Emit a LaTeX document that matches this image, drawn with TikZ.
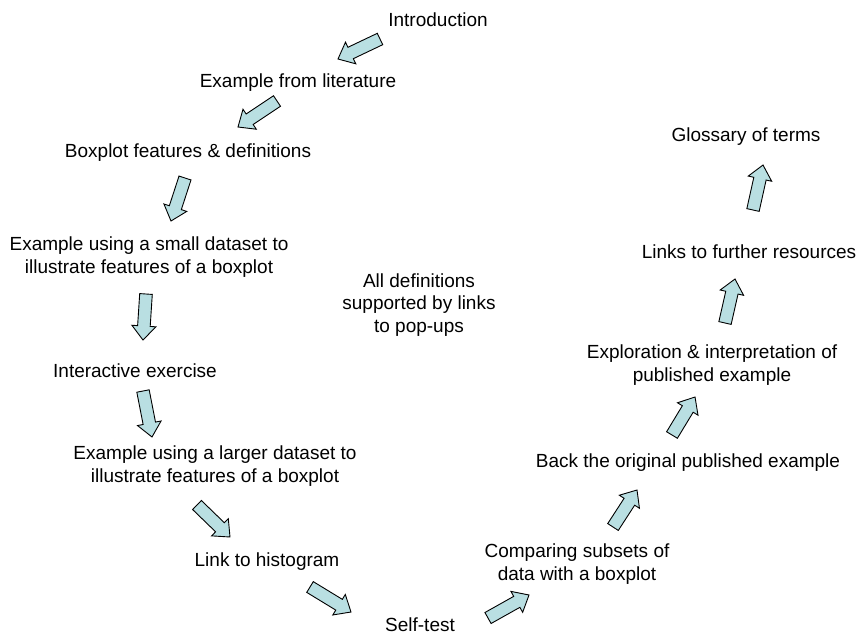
\documentclass[tikz,border=0pt]{standalone}
\usepackage{fontspec}
\setmainfont{Liberation Sans}
\usetikzlibrary{calc}
\definecolor{arrowfill}{RGB}{185,223,226}
\tikzset{
  lbl/.style={align=center, inner sep=0pt, font=\fontsize{19}{22.5}\selectfont},
  blockarr/.style={draw=black, fill=arrowfill, line width=0.9pt, line join=miter}
}
\newcommand\blockarrow[2]{%
  \coordinate (bah) at ($(#2)!14pt!(#1)$);
  \draw[blockarr] ($(#1)!6.3pt!90:(#2)$) -- ($(bah)!6.3pt!90:(#2)$) -- ($(bah)!12pt!90:(#2)$)
    -- (#2) -- ($(bah)!12pt!-90:(#2)$) -- ($(bah)!6.3pt!-90:(#2)$) -- ($(#1)!6.3pt!-90:(#2)$) -- cycle;
}
\begin{document}
\begin{tikzpicture}[x=1pt, y=-1pt]
\useasboundingbox (0,0) rectangle (859,635);
\node[lbl] (intro) at (438,20) {Introduction};
\node[lbl] (lit)   at (298,83) {Example from literature};
\node[lbl] (box)   at (188,153) {Boxplot features \& definitions};
\node[lbl] (small) at (149,257) {Example using a small dataset to\\illustrate features of a boxplot};
\node[lbl] (inter) at (135,371) {Interactive exercise};
\node[lbl] (large) at (215,466) {Example using a larger dataset to\\illustrate features of a boxplot};
\node[lbl] (hist)  at (267,562) {Link to histogram};
\node[lbl] (self)  at (420,625) {Self-test};
\node[lbl] (comp)  at (577,564) {Comparing subsets of\\data with a boxplot};
\node[lbl] (back)  at (688,463) {Back the original published example};
\node[lbl] (expl)  at (712,365) {Exploration \& interpretation of\\published example};
\node[lbl] (links) at (749,252) {Links to further resources};
\node[lbl] (gloss) at (746,137) {Glossary of terms};
\node[lbl] (alldef) at (419,305) {All definitions\\supported by links\\to pop-ups};

\coordinate (t1) at (380,39);  \coordinate (p1) at (338,59);
\coordinate (t2) at (277,101); \coordinate (p2) at (238,127);
\coordinate (t3) at (185,178); \coordinate (p3) at (171,221);
\coordinate (t4) at (146,294); \coordinate (p4) at (143,340);
\coordinate (t5) at (143,391); \coordinate (p5) at (152,437);
\coordinate (t6) at (197,505); \coordinate (p6) at (230,537);
\coordinate (t7) at (310,587); \coordinate (p7) at (351,612);
\coordinate (t8) at (488,618); \coordinate (p8) at (529,595);
\coordinate (t9) at (613,527); \coordinate (p9) at (637,490);
\coordinate (t10) at (672,435); \coordinate (p10) at (695,397);
\coordinate (t11) at (725,323); \coordinate (p11) at (735,279);
\coordinate (t12) at (753,210); \coordinate (p12) at (763,165);

\blockarrow{t1}{p1}
\blockarrow{t2}{p2}
\blockarrow{t3}{p3}
\blockarrow{t4}{p4}
\blockarrow{t5}{p5}
\blockarrow{t6}{p6}
\blockarrow{t7}{p7}
\blockarrow{t8}{p8}
\blockarrow{t9}{p9}
\blockarrow{t10}{p10}
\blockarrow{t11}{p11}
\blockarrow{t12}{p12}
\end{tikzpicture}
\end{document}
